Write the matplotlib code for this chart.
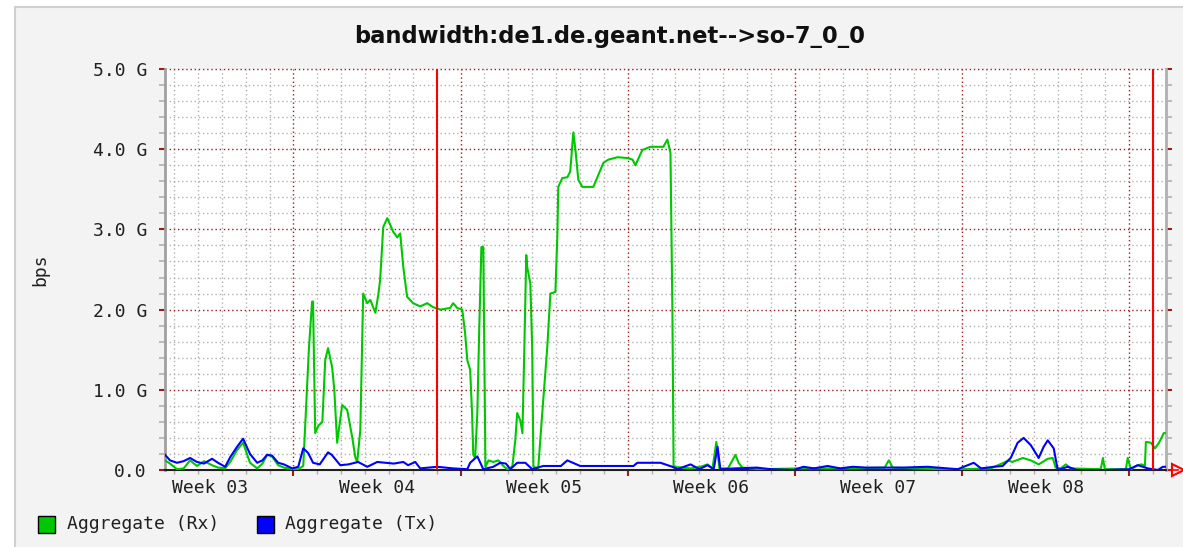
# Gráfico de ancho de banda estilo RRDtool (de1.de.geant.net --> so-7_0_0)

import numpy as np
import matplotlib.pyplot as plt
from matplotlib.patches import Rectangle

# tiempo en días (0 = inicio de la semana 03), valores en Gbps
rx_t = [1.62, 1.83, 2.12, 2.4, 2.67, 2.96, 3.25, 3.59, 3.84, 4.14, 4.35, 4.64, 4.89, 5.18,
        5.48, 5.7, 5.9, 6.1, 6.36, 6.6, 6.95, 7.2, 7.41, 7.49, 7.65, 7.78, 7.82, 7.91, 8.04,
        8.21, 8.33, 8.45, 8.62, 8.71, 8.83, 9.04, 9.25, 9.46, 9.59, 9.67, 9.8, 9.92, 10.09,
        10.22, 10.43, 10.55, 10.63, 10.76, 10.93, 11.18, 11.35, 11.47, 11.6, 11.76, 12.01,
        12.31, 12.6, 12.85, 13.15, 13.56, 13.69, 13.86, 14.07, 14.19, 14.28, 14.4, 14.48,
        14.53, 14.61, 14.7, 14.78, 14.87, 14.95, 15.04, 15.17, 15.37, 15.58, 15.79, 16.0,
        16.17, 16.29, 16.37, 16.5, 16.59, 16.67, 16.75, 16.79, 16.92, 17.0, 17.05, 17.25,
        17.42, 17.63, 17.76, 17.97, 18.05, 18.09, 18.26, 18.47, 18.59, 18.72, 18.81, 18.93,
        19.1, 19.56, 19.73, 19.98, 20.19, 20.57, 20.99, 21.2, 21.32, 21.61, 21.95, 22.49,
        22.66, 22.79, 22.87, 22.92, 23.63, 24.05, 24.34, 24.55, 24.71, 24.84, 25.2, 25.38,
        25.51, 25.64, 25.8, 26.56, 28.2, 30.3, 31.76, 31.93, 32.1, 34.1, 34.94, 36.2, 36.74,
        36.95, 37.1, 37.55, 37.88, 38.21, 38.59, 38.8, 38.92, 39.13, 39.35, 39.55, 40.81,
        40.9, 40.98, 41.86, 41.94, 42.07, 42.36, 42.53, 42.66, 42.7, 42.91, 43.08, 43.25,
        43.45, 43.53]
rx_v = [0.12, 0.08, 0.01, 0.02, 0.12, 0.05, 0.11, 0.06, 0.03, 0.02, 0.10, 0.25, 0.34, 0.09,
        0.02, 0.08, 0.19, 0.17, 0.06, 0.03, 0.01, 0.01, 0.05, 0.54, 1.53, 2.10, 2.10, 0.46, 0.55,
        0.60, 1.37, 1.52, 1.28, 1.00, 0.34, 0.81, 0.75, 0.41, 0.16, 0.10, 0.50, 2.20, 2.08,
        2.12, 1.96, 2.18, 2.37, 3.03, 3.14, 2.97, 2.90, 2.95, 2.53, 2.16, 2.08,
        2.04, 2.08, 2.03, 2.00, 2.02, 2.08, 2.02, 2.00, 1.70, 1.37, 1.25, 0.71,
        0.19, 0.15, 0.71, 1.75, 2.78, 2.78, 0.04, 0.12, 0.10, 0.12, 0.05, 0.00,
        0.05, 0.37, 0.71, 0.62, 0.46, 1.53, 2.68, 2.53, 2.33, 1.50, 0.04, 0.02,
        0.71, 1.53, 2.20, 2.22, 2.90, 3.53, 3.64, 3.65, 3.72, 4.21, 3.99, 3.62,
        3.53, 3.53, 3.65, 3.83, 3.87, 3.90, 3.89, 3.87, 3.80, 3.99, 4.03, 4.03,
        4.12, 3.95, 2.00, 0.04, 0.02, 0.04, 0.07, 0.02, 0.35, 0.02, 0.02, 0.12,
        0.19, 0.09, 0.03, 0.01, 0.02, 0.02, 0.03, 0.12, 0.03, 0.01, 0.01, 0.02, 0.09,
        0.12, 0.10, 0.15, 0.12, 0.07, 0.14, 0.15, 0.03, 0.02, 0.07, 0.02, 0.01,
        0.15, 0.01, 0.01, 0.15, 0.01, 0.06, 0.07, 0.05, 0.35, 0.34, 0.27, 0.34,
        0.46, 0.46]

tx_t = [1.62, 1.83, 2.12, 2.4, 2.67, 2.96, 3.25, 3.59, 3.84, 4.14, 4.35, 4.64, 4.89, 5.18,
        5.48, 5.7, 5.9, 6.1, 6.36, 6.6, 6.95, 7.2, 7.41, 7.62, 7.82, 8.1, 8.45, 8.6, 8.96,
        9.3, 9.71, 10.09, 10.51, 11.2, 11.6, 11.8, 12.1, 12.31, 13.02, 13.69, 14.28, 14.4,
        14.7, 14.95, 15.37, 15.66, 15.9, 16.08, 16.37, 16.71, 17.0, 17.34, 17.46, 18.2,
        18.47, 18.7, 19.01, 21.24, 21.4, 22.37, 22.87, 23.08, 23.63, 24.0, 24.34, 24.6,
        24.76, 24.88, 25.5, 26.4, 26.98, 27.94, 28.36, 28.8, 29.37, 29.9, 30.42, 31.0,
        31.8, 32.5, 33.56, 34.82, 35.49, 35.8, 36.33, 36.7, 37.04, 37.33, 37.58, 37.88,
        38.21, 38.42, 38.59, 38.84, 39.01, 39.43, 39.8, 41.0, 42.0, 42.36, 42.78, 43.2,
        43.41, 43.53]
tx_v = [0.19, 0.12, 0.09, 0.11, 0.15, 0.10, 0.08, 0.14, 0.09, 0.04, 0.16, 0.29, 0.39, 0.20,
        0.09, 0.12, 0.19, 0.18, 0.09, 0.07, 0.02, 0.04, 0.27, 0.21, 0.09, 0.07, 0.22, 0.19, 0.06,
        0.07, 0.10, 0.04, 0.10, 0.08, 0.10, 0.06, 0.10, 0.02, 0.04, 0.02, 0.01, 0.09,
        0.17, 0.01, 0.04, 0.09, 0.08, 0.01, 0.09, 0.09, 0.01, 0.04, 0.05, 0.05,
        0.12, 0.09, 0.05, 0.05, 0.09, 0.09, 0.04, 0.01, 0.07, 0.01, 0.06, 0.01,
        0.29, 0.01, 0.02, 0.03, 0.01, 0.00, 0.04, 0.02, 0.05, 0.02, 0.04, 0.03,
        0.03, 0.03, 0.04, 0.01, 0.09, 0.02, 0.04, 0.05, 0.15, 0.34, 0.40, 0.31,
        0.15, 0.29, 0.37, 0.27, 0.00, 0.04, 0.00, 0.00, 0.01, 0.06, 0.02, 0.00,
        0.04, 0.04]

week_labels = ["Week 03", "Week 04", "Week 05", "Week 06", "Week 07", "Week 08"]
week_mid = [3.5, 10.5, 17.5, 24.5, 31.5, 38.5]
vrules = [13.02, 42.98]
y_ticks = [0, 1, 2, 3, 4, 5]
y_labels = ["0.0", "1.0 G", "2.0 G", "3.0 G", "4.0 G", "5.0 G"]

W, H = 1183, 547
mono = "DejaVu Sans Mono"
rojo_osc = "#9a1c1c"
gris = "#b0b0b0"

fig = plt.figure(figsize=(W / 100, H / 100), dpi=100, facecolor="white")
fig.patches.append(Rectangle((15 / W, -0.01), 1, 1 - 7 / H + 0.01, transform=fig.transFigure,
                             facecolor="#f3f3f3", edgecolor="#d0d0d0", lw=1.5, zorder=-10))

ax = fig.add_axes([165 / W, 77 / H, 1000.7 / W, 401 / H])
ax.set_facecolor("white")
ax.set_xlim(1.62, 43.53)
ax.set_ylim(0, 5)

# rejilla punteada
for d in range(2, 44):
    c = rojo_osc if d % 7 == 0 else gris
    ax.axvline(d, color=c, ls=(0, (1, 2)), lw=1, zorder=1)
for y in np.arange(0.2, 5.01, 0.2):
    c = rojo_osc if abs(y - round(y)) < 1e-6 else gris
    ax.axhline(y, color=c, ls=(0, (1, 2)), lw=1, zorder=1, clip_on=False)

ax.plot(rx_t, rx_v, color="#00c800", lw=1.5, zorder=3)
ax.plot(tx_t, tx_v, color="#0000ff", lw=1.5, zorder=4)
for v in vrules:
    ax.axvline(v, color="#ff0000", lw=1.5, zorder=5)

ax.spines["top"].set_visible(False)
ax.spines["left"].set_color("#a0a0a0")
ax.spines["left"].set_linewidth(2)
ax.spines["right"].set_color("#b0b0b0")
ax.spines["right"].set_linewidth(2)
ax.spines["bottom"].set_color("#202020")
ax.spines["bottom"].set_linewidth(1.5)

ax.set_yticks(y_ticks, y_labels, fontfamily=mono, fontsize=13, color="#202020")
ax.set_yticks(np.arange(0.2, 5, 0.2), minor=True)
ax.tick_params(axis="y", which="major", color=rojo_osc, length=4, width=1.5, pad=9,
               right=True, direction="out")
ax.tick_params(axis="y", which="minor", color=gris, length=4, width=1.2, right=True)
ax.set_xticks([7, 14, 21, 28, 35, 42], [])
ax.set_xticks(range(2, 44), minor=True)
ax.tick_params(axis="x", which="major", color=rojo_osc, length=4, width=1.5)
ax.tick_params(axis="x", which="minor", color=gris, length=3, width=1)

for m, lab in zip(week_mid, week_labels):
    ax.text(m, -0.045, lab, transform=ax.get_xaxis_transform(), ha="center", va="center",
            fontfamily=mono, fontsize=13, color="#202020")

# flecha roja al final del eje x
ax.plot([1.0, 1.012], [0, 0], color="#ff0000", lw=1.2, transform=ax.transAxes, clip_on=False)
ax.plot([1.012], [0], marker=">", ms=9, mfc="none", mec="#ff0000", mew=1.5,
        transform=ax.transAxes, clip_on=False)

fig.text(610 / W, 1 - 37 / H, "bandwidth:de1.de.geant.net-->so-7_0_0", ha="center",
         va="center", fontsize=16.3, fontweight="bold", color="#101010")
fig.text(40 / W, 1 - 270 / H, "bps", rotation=90, ha="center", va="center",
         fontfamily=mono, fontsize=13, color="#202020")

# leyenda
fig.patches.append(Rectangle((38 / W, 1 - 533 / H), 17 / W, 17 / H, transform=fig.transFigure,
                             facecolor="#00c800", edgecolor="black", lw=1))
fig.text(67 / W, 1 - 524 / H, "Aggregate (Rx)", va="center", fontfamily=mono, fontsize=13,
         color="#202020")
fig.patches.append(Rectangle((257 / W, 1 - 533 / H), 17 / W, 17 / H, transform=fig.transFigure,
                             facecolor="#0000ff", edgecolor="black", lw=1))
fig.text(285 / W, 1 - 524 / H, "Aggregate (Tx)", va="center", fontfamily=mono, fontsize=13,
         color="#202020")

plt.savefig("out.png", dpi=100)
